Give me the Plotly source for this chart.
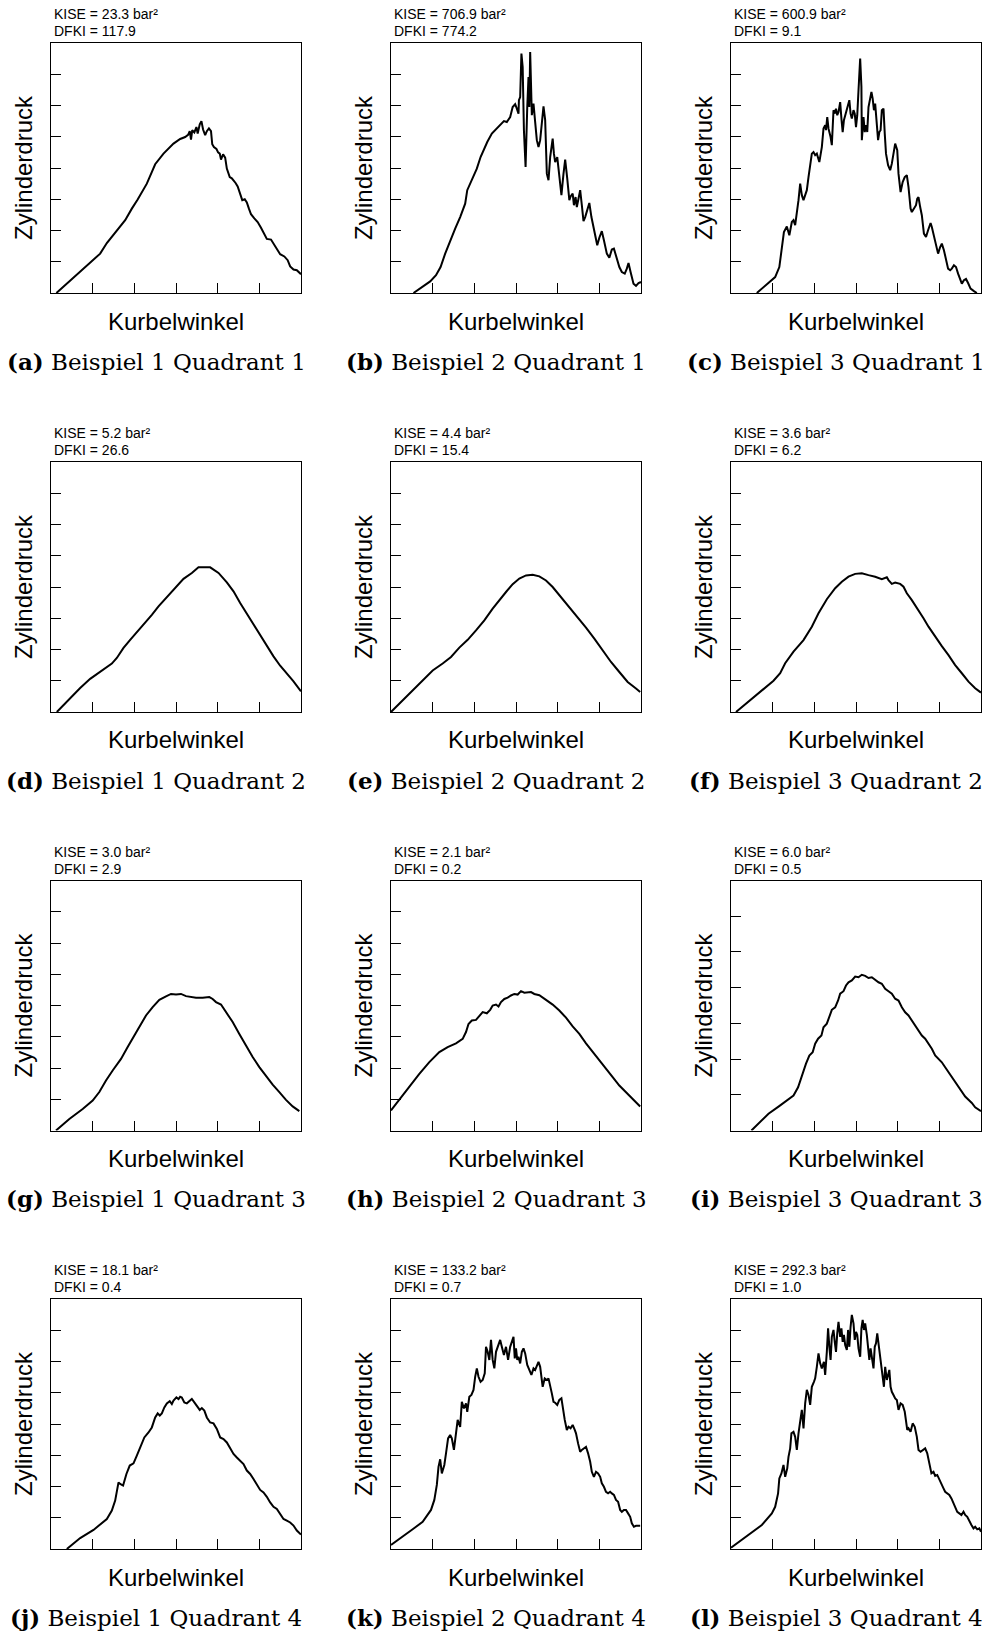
import plotly.graph_objects as go

# ---- Zylinderdruck über Kurbelwinkel (x: 0..60, y: Druck) ----
# Beispiel 1 / Quadrant 1
a_x = [1.3, 11.8, 13.4, 15.8, 17.8, 19.4, 20.8, 23.0, 25.0, 27.0, 29.4, 31.0, 32.2, 32.9, 33.3, 33.6, 33.9, 34.4, 34.9, 35.2,
       35.7, 36.1, 36.5, 37.0, 37.4, 37.9, 38.4, 38.7, 39.1, 39.7, 40.1, 40.5, 40.8, 41.3, 41.8, 42.2, 42.9, 43.4, 43.8, 44.3,
       44.8, 45.3, 45.9, 46.5, 47.0, 47.5, 48.0, 48.8, 49.6, 50.4, 51.2, 51.8, 52.8, 53.4, 54.2, 55.0, 56.0, 56.8, 57.4, 58.2,
       59.0, 60.0]
a_y = [0, 12.6, 16.0, 20.1, 23.3, 27.0, 29.9, 35.0, 41.2, 44.6, 47.8, 49.3, 49.9, 50.6, 51.8, 49.1, 52.1, 51.4, 53.1, 51.0,
       54.0, 55.0, 52.3, 50.5, 51.8, 52.7, 51.8, 47.6, 46.7, 46.1, 45.0, 44.6, 42.7, 44.4, 43.3, 39.8, 37.1, 36.7, 36.1, 35.2,
       34.1, 31.8, 29.7, 30.0, 29.0, 27.0, 25.2, 23.9, 22.7, 20.9, 19.0, 17.3, 17.1, 15.8, 13.7, 12.4, 11.7, 10.5, 8.5, 7.5,
       7.3, 6.0]

# Beispiel 2 / Quadrant 1
b_x = [5.4, 7.4, 9.4, 10.8, 11.9, 13.0, 14.2, 15.4, 16.6, 17.8, 18.3, 19.4, 20.6, 21.5, 22.3, 23.1, 24.2, 25.4, 26.3, 27.1,
       27.8, 28.6, 29.2, 29.8, 30.2, 30.6, 30.7, 31.0, 31.3, 31.6, 31.9, 32.3, 32.7, 33.0, 33.2, 33.4, 33.8, 34.2, 34.6, 35.0,
       35.4, 35.8, 36.6, 37.0, 37.4, 37.8, 38.2, 38.5, 38.8, 39.1, 39.4, 39.9, 40.4, 40.9, 41.4, 41.8, 42.3, 42.8, 43.1, 43.6,
       43.9, 44.3, 44.6, 45.0, 45.4, 45.8, 46.2, 46.6, 47.1, 47.6, 48.1, 48.6, 49.0, 49.5, 50.0, 50.6, 51.1, 51.8, 52.4, 53.0,
       53.5, 54.2, 54.8, 55.4, 56.1, 56.6, 57.0, 57.5, 58.2, 58.8, 59.4, 60.0]
b_y = [0, 1.9, 3.7, 5.7, 8.3, 12.6, 16.9, 20.6, 24.3, 28.6, 32.9, 36.1, 39.8, 43.5, 45.9, 48.3, 51.0, 52.6, 54.0, 55.0,
       54.7, 56.3, 59.5, 60.4, 59.0, 57.4, 61.7, 62.7, 76.6, 72.3, 52.1, 40.3, 59.5, 69.1, 59.5, 77.1, 56.9, 60.6, 54.7, 48.9,
       46.7, 48.9, 59.7, 55.3, 38.2, 36.1, 43.5, 46.2, 49.4, 44.6, 41.9, 43.5, 37.1, 31.3, 38.2, 42.7, 36.6, 29.7, 30.9, 31.8,
       28.1, 30.7, 27.5, 29.7, 32.9, 28.1, 23.0, 24.3, 26.7, 28.8, 24.3, 21.1, 19.0, 15.3, 17.7, 19.8, 16.9, 12.6, 11.3, 13.9,
       14.2, 10.5, 8.3, 6.7, 6.2, 7.8, 9.6, 6.7, 3.0, 2.3, 3.2, 3.5]

# Beispiel 3 / Quadrant 1
c_x = [6.2, 8.6, 10.6, 11.6, 12.2, 12.7, 13.4, 14.0, 14.6, 15.0, 15.4, 15.8, 16.2, 16.6, 17.0, 17.4, 17.8, 18.2, 18.6, 19.0,
       19.4, 19.8, 20.2, 20.6, 21.2, 21.8, 22.2, 22.6, 22.8, 23.1, 23.4, 23.9, 24.2, 24.6, 24.9, 25.2, 25.5, 25.8, 26.2, 26.5,
       26.8, 27.1, 27.4, 27.8, 28.2, 28.4, 28.7, 29.0, 29.4, 29.7, 30.0, 30.3, 30.6, 31.0, 31.3, 31.4, 31.8, 32.1, 32.4, 32.7,
       33.0, 33.4, 33.7, 34.0, 34.3, 34.6, 35.0, 35.3, 35.6, 35.9, 36.2, 36.6, 36.9, 37.2, 37.7, 38.2, 38.6, 39.1, 39.4, 39.9,
       40.2, 40.7, 41.2, 41.7, 42.2, 42.6, 43.1, 43.4, 43.9, 44.4, 44.7, 45.0, 45.4, 45.8, 46.3, 46.8, 47.3, 47.9, 48.2, 48.7,
       49.2, 49.7, 50.2, 50.6, 51.1, 51.6, 52.1, 52.6, 53.0, 53.5, 54.0, 54.5, 55.0, 55.4, 55.9, 56.4, 56.9, 57.5, 58.3, 59.0]
c_y = [0, 2.8, 5.1, 8.3, 13.7, 19.5, 21.3, 18.5, 22.7, 23.3, 21.7, 25.4, 29.7, 35.0, 31.3, 29.7, 31.3, 32.9, 37.1, 40.3,
       44.6, 45.1, 44.1, 44.6, 41.9, 46.7, 52.6, 53.7, 52.1, 56.3, 52.6, 49.9, 47.3, 58.5, 57.4, 59.0, 56.9, 57.9, 61.1, 55.8,
       51.5, 55.3, 56.9, 59.0, 60.6, 61.7, 57.4, 55.8, 58.5, 57.4, 53.1, 56.9, 64.9, 75.0, 65.9, 48.9, 56.3, 51.5, 53.7, 51.5,
       59.5, 61.7, 64.3, 62.2, 58.5, 60.6, 54.7, 48.9, 51.5, 52.1, 58.5, 59.0, 51.0, 44.6, 40.9, 39.3, 41.4, 45.7, 47.8, 45.7,
       38.2, 32.3, 35.5, 37.1, 37.7, 33.9, 27.0, 25.9, 27.0, 28.1, 30.2, 30.7, 27.5, 24.9, 19.0, 17.9, 20.1, 22.4, 21.1, 17.9,
       15.3, 12.6, 14.7, 15.8, 13.7, 10.5, 7.8, 7.3, 7.8, 8.9, 8.3, 6.2, 4.1, 3.0, 4.1, 4.5, 3.2, 1.4, 0.6, 0]

# Beispiel 1 / Quadrant 2
d_x = [1.4, 3.8, 7.0, 9.4, 11.8, 14.6, 15.8, 17.4, 19.0, 20.6, 22.2, 24.2, 25.8, 27.8, 29.8, 31.8, 33.8, 35.4, 38.2, 40.2,
       42.2, 43.8, 45.4, 47.0, 48.6, 50.2, 51.8, 53.4, 55.0, 56.6, 58.2, 60.0]
d_y = [0, 3.4, 7.7, 10.6, 13.0, 15.5, 17.3, 20.5, 23.1, 25.5, 27.9, 31.1, 33.8, 36.7, 39.7, 42.6, 44.5, 46.3, 46.3, 44.5,
       41.5, 38.6, 34.9, 31.5, 27.9, 24.7, 21.0, 17.8, 14.8, 12.3, 9.8, 6.6]

# Beispiel 2 / Quadrant 2
e_x = [0, 2.8, 5.2, 7.6, 10.0, 12.4, 14.4, 16.4, 18.4, 20.4, 22.4, 24.4, 26.0, 27.6, 29.2, 30.8, 32.4, 34.0, 35.6, 37.2,
       38.8, 40.8, 42.8, 44.8, 46.8, 48.8, 50.8, 52.8, 54.8, 56.8, 58.8, 59.8]
e_y = [0, 3.7, 6.9, 10.3, 13.3, 15.5, 17.6, 20.6, 23.1, 26.1, 29.3, 33.1, 35.9, 38.4, 40.9, 42.7, 43.7, 43.9, 43.4, 42.1,
       40.0, 36.8, 33.6, 30.4, 27.0, 23.5, 19.7, 16.0, 12.8, 9.6, 7.5, 6.4]

# Beispiel 3 / Quadrant 2
f_x = [1.2, 4.2, 7.4, 10.2, 11.8, 13.0, 15.0, 17.4, 19.4, 21.0, 23.0, 25.0, 26.6, 28.2, 29.8, 31.4, 33.0, 34.6, 36.2, 37.4,
       37.8, 38.6, 39.4, 40.6, 41.4, 42.2, 43.4, 44.2, 45.0, 46.2, 47.4, 49.0, 50.6, 52.2, 53.8, 55.4, 57.0, 58.6, 60.0]
f_y = [0, 3.3, 6.8, 10.0, 12.4, 15.6, 19.3, 23.0, 27.3, 31.6, 36.1, 39.6, 41.7, 43.3, 44.2, 44.4, 43.8, 43.3, 42.5, 43.1,
       42.2, 41.0, 41.4, 41.0, 40.1, 38.0, 35.8, 34.2, 32.4, 30.0, 27.3, 24.1, 21.1, 18.2, 15.0, 12.4, 9.7, 7.6, 6.2]

# Beispiel 1 / Quadrant 3
g_x = [1.2, 4.4, 7.6, 10.0, 11.6, 13.2, 14.8, 16.8, 18.4, 20.0, 21.6, 22.8, 24.4, 26.0, 27.6, 28.8, 30.0, 31.2, 32.4, 33.6,
       34.8, 36.4, 38.0, 38.8, 39.6, 40.8, 42.0, 43.6, 45.2, 46.8, 48.4, 50.0, 51.6, 53.2, 54.8, 56.4, 58.0, 59.6]
g_y = [0, 3.7, 6.9, 9.6, 12.3, 16.0, 19.2, 22.9, 26.7, 30.4, 34.1, 36.8, 39.5, 41.8, 42.9, 43.7, 43.5, 43.7, 43.0, 42.7,
       42.5, 42.5, 42.7, 42.1, 41.1, 40.3, 37.9, 34.7, 30.9, 27.2, 23.5, 20.3, 17.3, 14.7, 12.3, 9.8, 7.7, 6.2]

# Beispiel 2 / Quadrant 3
h_x = [0, 2.0, 4.4, 6.8, 9.2, 11.6, 13.6, 15.6, 17.2, 18.0, 18.6, 19.4, 20.4, 21.2, 22.0, 23.0, 23.8, 24.4, 25.2, 25.8,
       26.4, 27.2, 28.0, 28.8, 29.6, 30.4, 31.2, 32.0, 32.8, 33.6, 34.4, 35.6, 37.2, 38.8, 40.4, 42.0, 43.6, 45.2, 46.8, 48.4,
       50.0, 51.6, 53.2, 54.8, 56.4, 58.0, 59.8]
h_y = [6.4, 9.9, 13.9, 18.1, 21.9, 25.1, 26.7, 27.9, 29.3, 31.5, 34.1, 35.2, 35.4, 36.5, 37.9, 37.5, 38.6, 40.0, 40.3, 39.7,
       41.1, 42.1, 42.5, 43.2, 43.7, 43.5, 44.6, 44.1, 44.3, 44.3, 43.7, 43.3, 41.8, 40.3, 38.4, 36.1, 33.3, 30.9, 27.9, 25.1,
       22.4, 19.7, 17.1, 14.4, 12.3, 10.1, 7.7]

# Beispiel 3 / Quadrant 3 (Druckachse bis 70)
i_x = [4.9, 6.6, 9.0, 11.4, 13.4, 15.0, 16.1, 17.0, 18.0, 18.8, 19.6, 20.2, 20.9, 21.7, 22.2, 23.0, 23.8, 24.2, 25.0, 25.7,
       26.2, 27.0, 27.6, 28.2, 29.0, 29.8, 30.6, 31.4, 32.2, 33.0, 33.8, 34.6, 35.4, 36.2, 37.0, 37.8, 38.6, 39.4, 40.2, 41.0,
       41.8, 42.6, 43.4, 44.2, 45.0, 45.8, 46.6, 47.4, 48.2, 49.0, 49.8, 50.6, 51.4, 52.2, 53.0, 53.8, 54.6, 55.4, 56.2, 57.0,
       57.8, 58.6, 60.0]
i_y = [0, 1.9, 4.7, 6.7, 8.4, 9.8, 12.1, 15.4, 18.7, 21.0, 21.9, 24.3, 25.7, 26.6, 28.9, 29.9, 32.2, 33.8, 34.5, 36.4,
       38.3, 39.0, 40.6, 41.5, 42.0, 43.1, 42.9, 43.6, 43.3, 42.7, 42.9, 42.2, 41.5, 41.1, 39.7, 39.0, 38.3, 36.9, 36.4, 34.5,
       33.1, 32.2, 30.8, 29.4, 28.0, 26.6, 25.7, 24.3, 22.9, 21.0, 20.1, 19.1, 17.7, 16.3, 14.9, 13.5, 12.1, 10.7, 9.5, 8.6,
       7.7, 6.5, 5.4]

# Beispiel 1 / Quadrant 4
j_x = [3.8, 7.0, 10.2, 13.4, 14.6, 15.4, 16.2, 16.6, 17.3, 18.1, 18.9, 19.8, 20.6, 21.4, 22.4, 23.4, 24.2, 25.0, 25.6, 26.1,
       26.6, 27.2, 27.8, 28.5, 29.0, 29.4, 30.1, 30.6, 31.0, 31.4, 32.0, 32.6, 33.3, 33.8, 34.4, 35.0, 35.7, 36.2, 36.8, 37.4,
       38.2, 39.0, 39.8, 40.6, 41.4, 42.2, 43.0, 43.8, 44.6, 45.4, 46.2, 47.0, 47.8, 48.6, 49.4, 50.2, 51.0, 51.8, 52.6, 53.4,
       54.2, 55.0, 55.8, 56.6, 57.4, 58.2, 59.0, 60.0]
j_y = [0, 3.5, 6.1, 9.6, 12.3, 15.5, 21.3, 20.8, 20.3, 24.0, 26.7, 27.4, 29.9, 32.5, 35.7, 37.3, 38.9, 42.1, 43.4, 42.7,
       43.4, 45.3, 46.6, 47.3, 46.4, 47.5, 48.5, 48.0, 48.7, 48.5, 46.9, 46.6, 47.5, 48.0, 46.9, 45.9, 44.5, 45.1, 44.3, 42.1,
       40.5, 40.2, 38.4, 35.7, 35.2, 34.1, 32.0, 30.4, 29.3, 28.3, 27.2, 25.1, 24.0, 22.4, 20.8, 18.9, 18.1, 16.7, 14.9, 13.5,
       12.8, 11.2, 9.6, 9.1, 8.5, 7.5, 5.9, 4.6]

# Beispiel 2 / Quadrant 4
k_x = [0, 2.8, 5.2, 7.6, 9.6, 10.4, 11.0, 11.4, 11.8, 12.2, 12.8, 13.2, 13.7, 14.2, 14.6, 15.1, 15.6, 16.0, 16.6, 17.0,
       17.5, 18.0, 18.3, 18.8, 19.3, 19.8, 20.2, 20.6, 21.0, 21.5, 22.0, 22.5, 22.8, 23.2, 23.6, 24.0, 24.4, 24.8, 25.2, 25.7,
       26.2, 26.6, 27.1, 27.6, 28.1, 28.6, 29.0, 29.4, 29.7, 30.0, 30.3, 30.6, 31.0, 31.4, 31.8, 32.2, 32.7, 33.2, 33.7, 34.2,
       34.6, 35.1, 35.4, 35.8, 36.1, 36.4, 36.9, 37.4, 37.8, 38.3, 38.6, 39.0, 39.4, 39.9, 40.4, 40.9, 41.2, 41.7, 42.2, 42.6,
       43.1, 43.6, 44.1, 44.4, 44.9, 45.4, 45.8, 46.3, 46.8, 47.3, 47.8, 48.2, 48.7, 49.2, 49.7, 50.2, 50.6, 51.1, 51.6, 52.1,
       52.6, 53.0, 53.5, 54.0, 54.5, 55.0, 55.4, 55.9, 56.4, 56.9, 57.4, 57.8, 58.3, 58.8, 59.8]
k_y = [1.3, 3.9, 6.3, 8.7, 12.5, 15.7, 20.5, 26.3, 28.7, 24.2, 26.9, 30.6, 35.4, 36.5, 35.4, 31.7, 37.5, 41.3, 39.1, 47.1,
       45.0, 46.6, 43.9, 48.7, 49.3, 50.9, 55.1, 57.8, 55.1, 53.5, 54.1, 56.2, 64.7, 63.1, 60.5, 66.9, 60.5, 57.8, 63.1, 65.3,
       66.9, 64.7, 62.1, 64.7, 60.5, 64.7, 66.3, 67.9, 61.0, 64.2, 60.5, 61.5, 59.4, 63.1, 64.2, 62.6, 58.9, 57.3, 55.7, 57.8,
       57.3, 58.9, 59.9, 58.3, 54.1, 51.9, 54.6, 54.1, 54.6, 51.9, 49.8, 47.1, 46.8, 46.1, 47.7, 48.2, 45.0, 41.3, 38.1, 39.1,
       38.6, 39.7, 38.1, 37.0, 33.8, 31.1, 31.7, 32.2, 32.7, 30.6, 27.9, 24.7, 23.1, 24.7, 24.2, 23.1, 21.0, 19.9, 18.3, 17.8,
       18.3, 17.8, 17.3, 15.7, 15.1, 12.5, 11.9, 12.5, 12.5, 11.4, 10.3, 8.2, 7.1, 7.4, 7.4]

# Beispiel 3 / Quadrant 4
l_x = [0, 2.6, 5.0, 7.4, 9.8, 10.6, 11.3, 11.6, 12.1, 12.6, 13.0, 13.5, 13.8, 14.2, 14.5, 15.0, 15.4, 15.8, 16.2, 16.6,
       17.0, 17.4, 17.8, 18.2, 18.6, 19.0, 19.4, 19.9, 20.2, 20.6, 21.0, 21.4, 21.8, 22.3, 22.6, 23.0, 23.3, 23.6, 23.9, 24.2,
       24.6, 24.9, 25.2, 25.5, 25.8, 26.2, 26.5, 26.8, 27.1, 27.4, 27.8, 28.1, 28.4, 28.7, 29.0, 29.4, 29.7, 30.0, 30.3, 30.6,
       31.0, 31.3, 31.6, 31.9, 32.2, 32.6, 32.9, 33.2, 33.5, 33.8, 34.2, 34.5, 34.8, 35.1, 35.4, 35.8, 36.1, 36.4, 36.7, 37.0,
       37.4, 37.7, 38.0, 38.3, 38.6, 39.0, 39.4, 39.8, 40.2, 40.7, 41.2, 41.7, 42.0, 42.3, 42.6, 43.1, 43.6, 44.1, 44.6, 45.0,
       45.5, 46.0, 46.6, 47.1, 47.6, 48.1, 48.6, 49.0, 49.5, 50.0, 50.5, 51.0, 51.4, 51.9, 52.4, 52.9, 53.4, 53.8, 54.3, 54.8,
       55.3, 55.8, 56.2, 56.7, 57.2, 57.7, 58.2, 58.6, 59.1, 59.6, 60.0]
l_y = [0.4, 2.9, 5.3, 7.7, 11.4, 13.5, 17.8, 22.6, 24.2, 26.9, 23.1, 25.8, 29.5, 32.2, 37.0, 37.5, 35.9, 31.7, 37.0, 41.3,
       44.5, 38.6, 46.6, 50.9, 49.3, 46.1, 51.9, 53.5, 54.6, 58.3, 62.6, 59.4, 57.8, 59.9, 55.7, 63.1, 70.6, 64.7, 60.5, 67.9,
       70.1, 66.3, 63.1, 69.0, 72.7, 67.9, 70.6, 66.3, 68.5, 65.3, 63.7, 70.1, 64.7, 71.1, 74.9, 72.2, 66.9, 69.5, 68.5, 64.2,
       61.5, 70.6, 73.3, 70.1, 72.2, 68.5, 63.7, 60.5, 64.2, 61.5, 57.8, 64.7, 65.8, 69.0, 65.3, 61.0, 57.8, 55.1, 51.9, 58.3,
       54.1, 56.2, 57.3, 51.9, 50.3, 49.3, 48.2, 47.7, 44.5, 46.6, 46.1, 43.9, 41.3, 38.1, 38.6, 37.5, 40.2, 39.1, 35.9, 31.7,
       31.1, 31.7, 32.2, 30.6, 27.9, 24.2, 24.7, 23.4, 23.7, 22.1, 21.0, 19.4, 18.3, 17.8, 17.3, 16.2, 14.6, 13.5, 11.9, 11.4,
       10.9, 11.9, 10.9, 10.3, 8.7, 7.7, 6.6, 7.1, 6.3, 6.6, 5.5]

# Kennwerte je Quadrant (Zeile) und Beispiel (Spalte)
KISE = [[23.3, 706.9, 600.9],
        [5.2, 4.4, 3.6],
        [3.0, 2.1, 6.0],
        [18.1, 133.2, 292.3]]
DFKI = [[117.9, 774.2, 9.1],
        [26.6, 15.4, 6.2],
        [2.9, 0.2, 0.5],
        [0.4, 0.7, 1.0]]
P_MAX = [[80, 80, 80],
         [80, 80, 80],
         [80, 80, 70],
         [80, 80, 80]]
LETTERS = "abcdefghijkl"

CURVES = [(a_x, a_y), (b_x, b_y), (c_x, c_y),
          (d_x, d_y), (e_x, e_y), (f_x, f_y),
          (g_x, g_y), (h_x, h_y), (i_x, i_y),
          (j_x, j_y), (k_x, k_y), (l_x, l_y)]
for cx, cy in CURVES:
    assert len(cx) == len(cy)

# ---- page geometry (pixels) ----
W, H = 990, 1637
BOX = 250
COL_LEFT = [51, 391, 731]
ROW_TOP = [43, 462, 880.5, 1299]

SANS = "Liberation Sans, Arial, Helvetica, sans-serif"
SERIF = "DejaVu Serif, serif"


def px_x(px):
    return px / W


def px_y(py):
    return 1 - py / H


fig = go.Figure()
layout = dict(
    width=W, height=H, autosize=False,
    margin=dict(l=0, r=0, t=0, b=0, pad=0),
    paper_bgcolor="white", plot_bgcolor="white",
    showlegend=False,
)
annotations = []

axis_style = dict(
    showgrid=False, zeroline=False, showline=True, mirror=True,
    linecolor="black", linewidth=1,
    ticks="inside", ticklen=10, tickwidth=1, tickcolor="black",
    showticklabels=False, fixedrange=True,
)

for r in range(4):
    for c in range(3):
        idx = r * 3 + c
        n = idx + 1
        sfx = "" if n == 1 else str(n)
        L, T = COL_LEFT[c], ROW_TOP[r]
        xs, ys = CURVES[idx]
        pmax = P_MAX[r][c]

        fig.add_trace(go.Scatter(
            x=xs, y=ys, mode="lines",
            line=dict(color="black", width=2),
            xaxis="x" + sfx, yaxis="y" + sfx,
            hoverinfo="skip", showlegend=False,
        ))

        layout["xaxis" + sfx] = dict(
            domain=[px_x(L), px_x(L + BOX)], range=[0, 60],
            tickvals=[10, 20, 30, 40, 50], anchor="y" + sfx, **axis_style)
        layout["yaxis" + sfx] = dict(
            domain=[px_y(T + BOX), px_y(T)], range=[0, pmax],
            tickvals=list(range(10, pmax, 10)), anchor="x" + sfx, **axis_style)

        # KISE / DFKI above the box
        annotations.append(dict(
            text=f"KISE = {KISE[r][c]:.1f} bar²", x=px_x(L + 1), y=px_y(T - 29),
            xref="paper", yref="paper", xanchor="left", yanchor="middle",
            showarrow=False, font=dict(family=SANS, size=14, color="black")))
        annotations.append(dict(
            text=f"DFKI = {DFKI[r][c]:.1f}", x=px_x(L + 1), y=px_y(T - 12),
            xref="paper", yref="paper", xanchor="left", yanchor="middle",
            showarrow=False, font=dict(family=SANS, size=14, color="black")))

        # axis titles
        annotations.append(dict(
            text="Kurbelwinkel", x=px_x(L + BOX / 2), y=px_y(T + BOX + 28),
            xref="paper", yref="paper", xanchor="center", yanchor="middle",
            showarrow=False, font=dict(family=SANS, size=24, color="black")))
        annotations.append(dict(
            text="Zylinderdruck", x=px_x(L - 28), y=px_y(T + BOX / 2),
            xref="paper", yref="paper", xanchor="center", yanchor="middle",
            textangle=-90, showarrow=False,
            font=dict(family=SANS, size=24, color="black")))

        # sub-figure caption
        annotations.append(dict(
            text=f"<b>({LETTERS[idx]})</b> Beispiel {c + 1} Quadrant {r + 1}",
            x=px_x(L + 105), y=px_y(T + BOX + 68),
            xref="paper", yref="paper", xanchor="center", yanchor="middle",
            showarrow=False, font=dict(family=SERIF, size=23, color="black")))

layout["annotations"] = annotations
fig.update_layout(**layout)
fig.write_html("out.html")
